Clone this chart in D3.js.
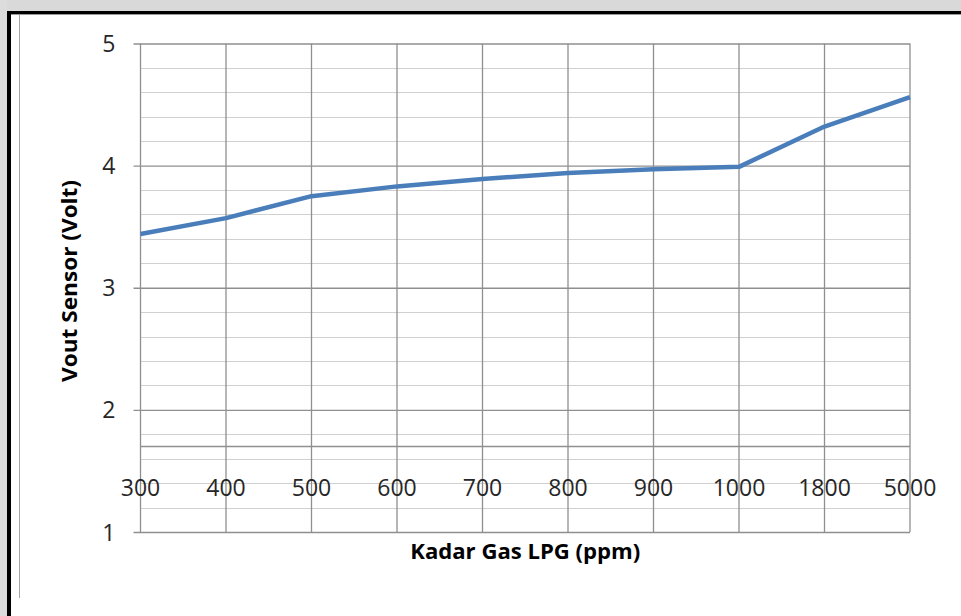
<!DOCTYPE html>
<html>
<head>
<meta charset="utf-8">
<script src="https://cdn.jsdelivr.net/npm/d3@7"></script>
<style>
  html, body { margin: 0; padding: 0; background: #ffffff; }
  svg { display: block; }
</style>
</head>
<body>
<svg id="chart" width="961" height="616"></svg>
<script>
// Gas concentration categories (ppm) and measured sensor output (V)
const categories = ["300", "400", "500", "600", "700", "800", "900", "1000", "1800", "5000"];
const voutValues = [3.44, 3.57, 3.75, 3.83, 3.89, 3.94, 3.97, 3.99, 4.32, 4.56];
const yTicks = [1, 2, 3, 4, 5];
const yMinorStep = 0.2;
const xAxisCrossing = 1.7;

const W = 961, H = 616;
const plot = { left: 140.5, right: 910, top: 43.5, bottom: 532 };
const svg = d3.select("#chart");
const font = "'Open Sans', 'Liberation Sans', sans-serif";

// Frame around the chart area
svg.append("rect").attr("x", 0).attr("y", 0).attr("width", W).attr("height", H).attr("fill", "#ffffff");
svg.append("rect").attr("x", 0).attr("y", 0).attr("width", W).attr("height", 11).attr("fill", "#d9d9d9");
svg.append("rect").attr("x", 0).attr("y", 0).attr("width", 7).attr("height", H).attr("fill", "#dcdcdc");
svg.append("rect").attr("x", 7).attr("y", 11).attr("width", W - 7).attr("height", 3).attr("fill", "#000000");
svg.append("rect").attr("x", 11).attr("y", 14).attr("width", W - 11).attr("height", 1).attr("fill", "#9a9a9a");
svg.append("rect").attr("x", 7).attr("y", 11).attr("width", 4).attr("height", H - 11).attr("fill", "#000000");
svg.append("line").attr("x1", 19.5).attr("x2", 19.5).attr("y1", 15).attr("y2", 598)
  .attr("stroke", "#a6a6a6").attr("stroke-width", 1);

const x = d3.scalePoint().domain(categories).range([plot.left, plot.right]).padding(0);
const y = d3.scaleLinear().domain([1, 5]).range([plot.bottom, plot.top]);

const grid = svg.append("g");

// Minor horizontal gridlines every 0.2 V
const minor = d3.range(1, 5.0001, yMinorStep).filter(v => Math.abs(v - Math.round(v)) > 1e-6);
grid.selectAll("line.minor").data(minor).join("line")
  .attr("class", "minor")
  .attr("x1", plot.left).attr("x2", plot.right)
  .attr("y1", d => Math.round(y(d)) + 0.5).attr("y2", d => Math.round(y(d)) + 0.5)
  .attr("stroke", "#d0d0d0").attr("stroke-width", 1.2);

// Vertical gridlines at each category
grid.selectAll("line.vgrid").data(categories).join("line")
  .attr("class", "vgrid")
  .attr("x1", d => x(d)).attr("x2", d => x(d))
  .attr("y1", y(5)).attr("y2", y(1))
  .attr("stroke", "#8f8f8f").attr("stroke-width", 1.3);

// Major horizontal gridlines with ticks, via the y axis
const yAxis = d3.axisLeft(y).tickValues(yTicks).tickSize(-(plot.right - plot.left)).tickPadding(0).tickFormat(d3.format("d"));
const yg = svg.append("g").attr("transform", `translate(${plot.left},0)`).call(yAxis);
yg.select(".domain").remove();
yg.selectAll(".tick line").attr("stroke", "#8f8f8f").attr("stroke-width", 1.3).attr("x1", -7);
yg.selectAll(".tick text")
  .attr("x", -25).attr("dy", "0.35em")
  .attr("fill", "#262626")
  .style("font-family", font).style("font-size", "23px");

// Horizontal category axis line crossing at 1.7 V
svg.append("line")
  .attr("x1", plot.left).attr("x2", plot.right)
  .attr("y1", y(xAxisCrossing)).attr("y2", y(xAxisCrossing))
  .attr("stroke", "#8f8f8f").attr("stroke-width", 1.3);

// Category labels
svg.append("g").selectAll("text").data(categories).join("text")
  .attr("x", d => x(d)).attr("y", 496)
  .attr("text-anchor", "middle")
  .attr("fill", "#262626")
  .style("font-family", font).style("font-size", "23px")
  .text(d => d);

// Data line
const line = d3.line().x((d, i) => x(categories[i])).y(d => y(d));
svg.append("path").datum(voutValues)
  .attr("d", line)
  .attr("fill", "none")
  .attr("stroke", "#4a7ebb")
  .attr("stroke-width", 4.5)
  .attr("stroke-linejoin", "round")
  .attr("stroke-linecap", "butt");

// Axis titles
svg.append("text")
  .attr("x", (plot.left + plot.right) / 2).attr("y", 559)
  .attr("text-anchor", "middle")
  .attr("fill", "#000000")
  .style("font-family", font).style("font-size", "21px").style("font-weight", "bold")
  .attr("textLength", 230).attr("lengthAdjust", "spacingAndGlyphs")
  .text("Kadar Gas LPG (ppm)");

svg.append("text")
  .attr("transform", "translate(77,281) rotate(-90)")
  .attr("text-anchor", "middle")
  .attr("fill", "#000000")
  .style("font-family", font).style("font-size", "21px").style("font-weight", "bold")
  .attr("textLength", 202).attr("lengthAdjust", "spacingAndGlyphs")
  .text("Vout Sensor (Volt)");
</script>
</body>
</html>
